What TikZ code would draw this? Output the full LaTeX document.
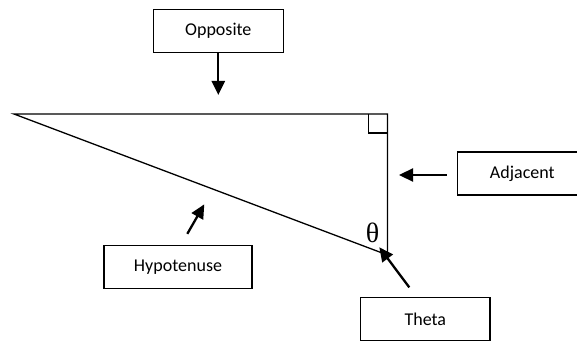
\documentclass[tikz,border=0pt]{standalone}
\usepackage{fontspec}
\setmainfont{Carlito}
\newfontfamily\thetafont{Liberation Serif}
\usetikzlibrary{arrows.meta}

\tikzset{
	labelbox/.style={draw, line width=1.3pt, minimum height=43pt, inner sep=0pt, font=\fontsize{18}{22}\selectfont},
	pointer/.style={-{Triangle[length=14pt,width=13pt]}, line width=2.3pt}
}

\begin{document}
\begin{tikzpicture}[x=1pt, y=-1pt]
			%%%%% START %%%%%
			\useasboundingbox (0, 0) rectangle (577, 342);
			
			% triangle
			\coordinate (tipA) at (14, 114);
			\coordinate (tipB) at (387.5, 114);
			\coordinate (tipC) at (387.5, 255);
			\draw[line width=1.3pt] (tipA) -- (tipB) -- (tipC) -- cycle;
			\draw[line width=1.3pt] (368.5, 114) -- (368.5, 133) -- (387.5, 133);
			\node[font=\thetafont\fontsize{28}{30}\selectfont] (ang) at (372.5, 233) {θ};
			
			% labels
			\node[labelbox, minimum width=130pt] (opp) at (218.3, 31) {Opposite};
			\node[labelbox, minimum width=130pt] (adj) at (522.3, 173.6) {Adjacent};
			\node[labelbox, minimum width=148pt] (hyp) at (178, 266.7) {Hypotenuse};
			\node[labelbox, minimum width=129.3pt] (theta) at (425.3, 318.9) {Theta};
			
			\coordinate (oppTip) at (218.3, 95);
			\coordinate (adjTip) at (399, 175);
			\coordinate (hypTip) at (204.3, 204.3);
			\coordinate (thetaTip) at (379.3, 247.3);
			
			% arrows
			\draw[pointer] ([xshift=-10pt, yshift=-1.4pt]adj.west) -- (adjTip);
			\draw[pointer] (opp.south) -- (oppTip);
			\draw[pointer] ([xshift=9.3pt, yshift=10.7pt]hyp.north) -- (hypTip);
			\draw[pointer] ([xshift=-16pt, yshift=9.4pt]theta.north) -- (thetaTip);
			%%%%% END %%%%%
\end{tikzpicture}
\end{document}
